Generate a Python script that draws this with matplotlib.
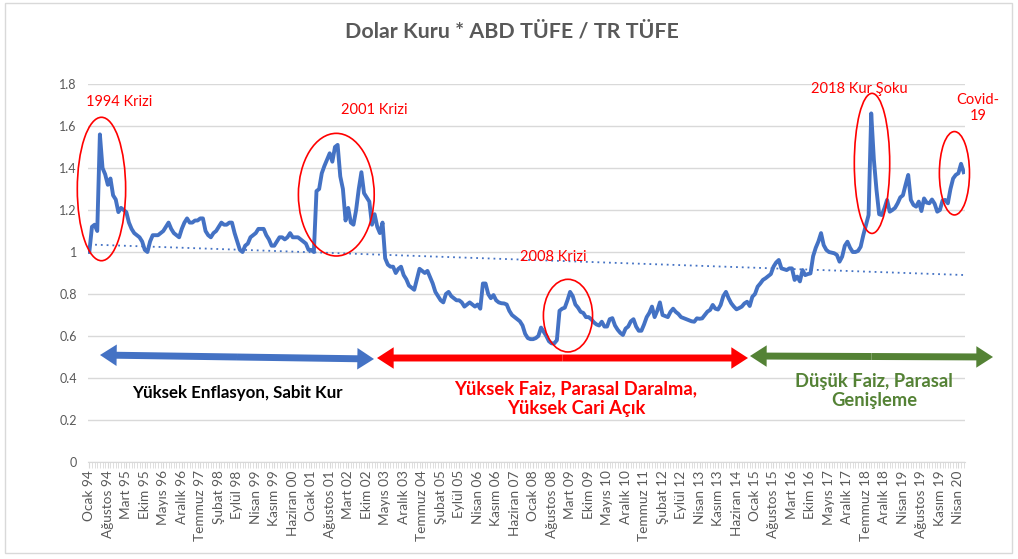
import numpy as np
import matplotlib
matplotlib.use("Agg")
import matplotlib.pyplot as plt
from matplotlib.patches import Ellipse, FancyArrowPatch, Rectangle

plt.rcParams['font.family'] = ['Lato', 'DejaVu Sans']

# --- veri ---
kur_endeksi = [
    1.00, 1.12, 1.13, 1.10, 1.56, 1.40, 1.37, 1.32, 1.35, 1.27,
    1.25, 1.19, 1.21, 1.20, 1.19, 1.14, 1.11, 1.09, 1.08, 1.07,
    1.05, 1.01, 1.00, 1.05, 1.08, 1.08, 1.08, 1.09, 1.10, 1.12,
    1.14, 1.11, 1.09, 1.08, 1.07, 1.11, 1.14, 1.16, 1.14, 1.14,
    1.15, 1.15, 1.16, 1.16, 1.10, 1.08, 1.07, 1.09, 1.10, 1.12,
    1.14, 1.13, 1.13, 1.14, 1.14, 1.09, 1.05, 1.01, 1.00, 1.03,
    1.04, 1.07, 1.08, 1.09, 1.11, 1.11, 1.11, 1.08, 1.06, 1.03,
    1.03, 1.05, 1.07, 1.07, 1.06, 1.07, 1.09, 1.07, 1.07, 1.07,
    1.06, 1.05, 1.04, 1.01, 1.01, 1.00, 1.29, 1.30, 1.375, 1.41,
    1.44, 1.47, 1.43, 1.50, 1.51, 1.36, 1.30, 1.15, 1.21, 1.14,
    1.13, 1.20, 1.30, 1.38, 1.28, 1.26, 1.24, 1.13, 1.18, 1.12,
    1.09, 1.14, 0.97, 0.94, 0.93, 0.93, 0.90, 0.92, 0.93, 0.89,
    0.87, 0.84, 0.83, 0.82, 0.87, 0.92, 0.91, 0.90, 0.91, 0.88,
    0.85, 0.81, 0.79, 0.77, 0.76, 0.80, 0.81, 0.79, 0.78, 0.77,
    0.77, 0.76, 0.74, 0.75, 0.76, 0.75, 0.74, 0.75, 0.73, 0.85,
    0.85, 0.80, 0.78, 0.795, 0.77, 0.76, 0.756, 0.755, 0.75, 0.72,
    0.70, 0.69, 0.68, 0.67, 0.65, 0.61, 0.59, 0.585, 0.585, 0.59,
    0.60, 0.64, 0.62, 0.60, 0.575, 0.565, 0.565, 0.58, 0.72, 0.73,
    0.735, 0.77, 0.81, 0.79, 0.75, 0.735, 0.715, 0.71, 0.69, 0.69,
    0.68, 0.665, 0.655, 0.65, 0.668, 0.645, 0.645, 0.68, 0.685, 0.65,
    0.63, 0.615, 0.605, 0.635, 0.645, 0.67, 0.68, 0.645, 0.625, 0.625,
    0.655, 0.69, 0.71, 0.74, 0.69, 0.72, 0.76, 0.70, 0.695, 0.69,
    0.715, 0.73, 0.715, 0.705, 0.69, 0.685, 0.68, 0.675, 0.67, 0.668,
    0.684, 0.682, 0.684, 0.70, 0.716, 0.724, 0.748, 0.73, 0.726, 0.748,
    0.79, 0.81, 0.78, 0.756, 0.74, 0.727, 0.733, 0.74, 0.755, 0.763,
    0.743, 0.787, 0.80, 0.835, 0.85, 0.867, 0.875, 0.885, 0.895, 0.93,
    0.95, 0.962, 0.922, 0.918, 0.914, 0.922, 0.922, 0.867, 0.883, 0.86,
    0.914, 0.89, 0.895, 0.898, 0.98, 1.02, 1.05, 1.09, 1.033, 1.01,
    1.00, 0.997, 0.994, 0.986, 0.954, 0.978, 1.03, 1.049, 1.02, 1.00,
    1.00, 1.005, 1.025, 1.08, 1.129, 1.176, 1.66, 1.44, 1.295, 1.18,
    1.176, 1.208, 1.248, 1.192, 1.20, 1.21, 1.232, 1.26, 1.27, 1.32,
    1.367, 1.248, 1.224, 1.216, 1.24, 1.195, 1.255, 1.235, 1.232, 1.25,
    1.23, 1.192, 1.20, 1.245, 1.248, 1.232, 1.30, 1.35, 1.367, 1.375,
    1.42, 1.38,
]

etiketler = [
    "Ocak 94", "Ağustos 94", "Mart 95", "Ekim 95", "Mayıs 96", "Aralık 96",
    "Temmuz 97", "Şubat 98", "Eylül 98", "Nisan 99", "Kasım 99", "Haziran 00",
    "Ocak 01", "Ağustos 01", "Mart 02", "Ekim 02", "Mayıs 03", "Aralık 03",
    "Temmuz 04", "Şubat 05", "Eylül 05", "Nisan 06", "Kasım 06", "Haziran 07",
    "Ocak 08", "Ağustos 08", "Mart 09", "Ekim 09", "Mayıs 10", "Aralık 10",
    "Temmuz 11", "Şubat 12", "Eylül 12", "Nisan 13", "Kasım 13", "Haziran 14",
    "Ocak 15", "Ağustos 15", "Mart 16", "Ekim 16", "Mayıs 17", "Aralık 17",
    "Temmuz 18", "Aralık 18", "Nisan 19", "Ağustos 19", "Kasım 19", "Nisan 20",
]
etiket_araligi = 7

y_ticks = [0, 0.2, 0.4, 0.6, 0.8, 1, 1.2, 1.4, 1.6, 1.8]
y_tick_labels = ["0", "0.2", "0.4", "0.6", "0.8", "1", "1.2", "1.4", "1.6", "1.8"]

W, H = 1018, 559
MAVI = "#4472C4"
GRI = "#595959"
KIRMIZI = "#FF0000"
YESIL = "#548235"


def px(x, y):
    """piksel koordinatını figür oranına çevir"""
    return x / W, 1 - y / H


fig = plt.figure(figsize=(W / 100, H / 100), dpi=100)
ax = fig.add_axes([88 / W, 1 - 462 / H, (965 - 88) / W, (462 - 84) / H])

idx = np.arange(len(kur_endeksi))
vals = np.array(kur_endeksi)

ax.plot(idx, vals, color=MAVI, lw=2.8, solid_joinstyle='round', zorder=3)

# doğrusal eğilim çizgisi
a, b = np.polyfit(idx, vals, 1)
ax.plot(idx, a * idx + b, color=MAVI, lw=1.3, linestyle=(0, (1, 2.2)), zorder=2)

ax.set_xlim(-0.5, len(kur_endeksi) - 0.5)
ax.set_ylim(0, 1.8)
ax.set_yticks(y_ticks)
ax.set_yticklabels(y_tick_labels)
ax.set_xticks(idx[::etiket_araligi][:len(etiketler)])
ax.set_xticklabels(etiketler, rotation=90)
ax.set_xticks(idx, minor=True)

ax.grid(axis='y', color="#D9D9D9", lw=1.0)
ax.set_axisbelow(True)
for s in ['top', 'right', 'left']:
    ax.spines[s].set_visible(False)
ax.spines['bottom'].set_color("#D9D9D9")
ax.tick_params(axis='y', length=0, labelsize=9, labelcolor=GRI, pad=8)
ax.tick_params(axis='x', which='both', length=4, color="#D9D9D9", labelsize=9.8,
               labelcolor=GRI, pad=2)

# kriz elipsleri
elipsler = [(4.6, 1.30, 18.3, 0.683), (93.5, 1.273, 28.7, 0.584),
            (181.2, 0.697, 18.6, 0.346), (296.3, 1.422, 13.4, 0.667),
            (327.5, 1.375, 11.4, 0.397)]
for cx, cy, w, h in elipsler:
    ax.add_patch(Ellipse((cx, cy), w, h, fill=False, edgecolor=KIRMIZI, lw=1.2,
                         clip_on=False, zorder=4))

# kriz etiketleri
for txt, x, y, ha in [("1994 Krizi", 86, 102, 'left'), ("2001 Krizi", 374, 110, 'center'),
                      ("2008 Krizi", 553, 257, 'center'), ("2018 Kur Şoku", 859, 89, 'center'),
                      ("Covid-\n19", 978, 108, 'center')]:
    fig.text(*px(x, y), txt, color=KIRMIZI, fontsize=10.5, ha=ha, va='center',
             linespacing=1.25)

# dönem okları
def cift_ok(x1, y1, x2, y2, renk):
    xm, ym = (x1 + x2) / 2, (y1 + y2) / 2
    for xe, ye in [(x1, y1), (x2, y2)]:
        fig.patches.append(FancyArrowPatch(
            px(xm, ym), px(xe, ye), transform=fig.transFigure,
            arrowstyle="simple,head_length=1.2,head_width=1.55,tail_width=0.5",
            mutation_scale=10, color=renk, lw=0, shrinkA=0, shrinkB=0))


cift_ok(100, 355, 374, 359, MAVI)
cift_ok(377, 358, 748, 358, KIRMIZI)
cift_ok(750, 356, 993, 357, YESIL)

fig.text(*px(237, 393), "Yüksek Enflasyon, Sabit Kur", color="black", fontsize=12.2,
         fontweight='bold', ha='center', va='center')
fig.text(*px(576, 399), "Yüksek Faiz, Parasal Daralma,\nYüksek Cari Açık", color=KIRMIZI,
         fontsize=13.2, fontweight='bold', ha='center', va='center', linespacing=1.2)
fig.text(*px(874, 391), "Düşük Faiz, Parasal\nGenişleme", color=YESIL,
         fontsize=13.2, fontweight='bold', ha='center', va='center', linespacing=1.2)

fig.text(*px(512, 31), "Dolar Kuru * ABD TÜFE / TR TÜFE", color=GRI, fontsize=15.4,
         fontweight='bold', ha='center', va='center')

# grafik çerçevesi
fig.patches.append(Rectangle(px(5, 553), (1012 - 5) / W, (553 - 3) / H,
                             transform=fig.transFigure, fill=False,
                             edgecolor="#D9D9D9", lw=1))

fig.savefig("out.png", dpi=100)
